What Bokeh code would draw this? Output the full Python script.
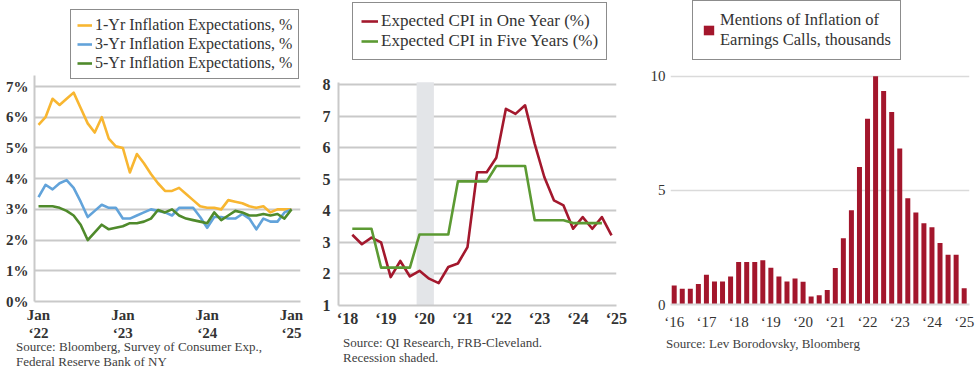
import numpy as np
import pandas as pd
from bokeh.plotting import figure
from bokeh.models import (Legend, LegendItem, BoxAnnotation, FixedTicker, Div,
                          Range1d, PrintfTickFormatter)
from bokeh.layouts import row, column
from bokeh.embed import file_html
from bokeh.resources import INLINE

FONT = "Liberation Serif"
TXT = "#333333"
GRID = "#c9c9c9"

# ---------------- Panel 1: NY Fed Survey of Consumer Expectations (monthly) ----------------
p1_months = pd.date_range("2022-01-01", "2025-01-01", freq="MS")
one_yr = [5.75, 6.0, 6.6, 6.4, 6.6, 6.8, 6.3, 5.8, 5.5, 6.0, 5.3, 5.05,
          5.0, 4.2, 4.8, 4.5, 4.15, 3.85, 3.6, 3.6, 3.7, 3.5, 3.3, 3.1,
          3.05, 3.05, 3.0, 3.3, 3.25, 3.2, 3.1, 3.05, 3.1, 2.9, 3.0, 3.0, 3.0]
three_yr = [3.4, 3.8, 3.65, 3.85, 3.95, 3.7, 3.25, 2.75, 2.95, 3.15, 3.05, 3.05,
            2.7, 2.7, 2.8, 2.9, 3.0, 2.95, 2.9, 2.8, 3.05, 3.05, 3.05, 2.75,
            2.4, 2.75, 2.75, 2.7, 2.7, 2.85, 2.7, 2.35, 2.7, 2.6, 2.6, 2.9, 3.0]
five_yr = [3.1, 3.1, 3.1, 3.05, 2.95, 2.8, 2.5, 2.0, 2.25, 2.5, 2.35, 2.4,
           2.45, 2.55, 2.55, 2.6, 2.7, 2.98, 2.9, 3.0, 2.8, 2.7, 2.65, 2.6,
           2.55, 2.9, 2.65, 2.8, 2.95, 2.9, 2.8, 2.8, 2.85, 2.8, 2.85, 2.7, 3.0]
p1_ticks = ["2022-01", "2023-01", "2024-01", "2025-01"]
p1_tick_labels = ["Jan\n‘22", "Jan\n‘23", "Jan\n‘24", "Jan\n‘25"]
p1_yticks = [0, 1, 2, 3, 4, 5, 6, 7]
p1_source = ["Source: Bloomberg, Survey of Consumer Exp.,", "Federal Reserve Bank of NY"]

# ---------------- Panel 2: Cleveland Fed expected CPI (quarterly) ----------------
p2_quarters_1y = pd.period_range("2018Q1", "2024Q4", freq="Q")
cpi_one_year = [3.24, 2.94, 3.15, 3.0, 1.9, 2.41, 1.92, 2.1, 1.85, 1.71, 2.22, 2.33,
                2.85, 5.22, 5.22, 5.68, 7.23, 7.07, 7.34, 6.12, 5.07, 4.33, 4.17, 3.43,
                3.8, 3.43, 3.8, 3.22]
p2_quarters_5y = pd.period_range("2018Q1", "2024Q3", freq="Q")
cpi_five_year = [3.43, 3.43, 3.43, 2.2, 2.2, 2.2, 2.2, 3.25, 3.25, 3.25, 3.25, 4.93,
                 4.93, 4.93, 4.93, 5.42, 5.42, 5.42, 5.42, 3.7, 3.7, 3.7, 3.7, 3.61,
                 3.61, 3.61, 3.61]
recession = (2019.8, 2020.25)
p2_years = [2018, 2019, 2020, 2021, 2022, 2023, 2024, 2025]
p2_yticks = [1, 2, 3, 4, 5, 6, 7, 8]
p2_source = ["Source: QI Research, FRB-Cleveland.", "Recession shaded."]

# ---------------- Panel 3: mentions of inflation on earnings calls (quarterly) ----------------
p3_quarters = pd.period_range("2016Q1", "2025Q1", freq="Q")
mentions = [0.83, 0.69, 0.69, 0.9, 1.3, 1.01, 1.01, 1.23, 1.86, 1.86, 1.86, 1.94,
            1.61, 1.23, 1.01, 1.14, 1.0, 0.35, 0.4, 0.63, 1.6, 2.9, 4.13, 6.03,
            8.14, 10.0, 9.35, 8.43, 6.83, 4.65, 4.03, 3.56, 3.39, 2.69, 2.18, 2.18, 0.71]
p3_years = [2016, 2017, 2018, 2019, 2020, 2021, 2022, 2023, 2024, 2025]
p3_yticks = [0, 5, 10]
p3_source = ["Source: Lev Borodovsky, Bloomberg"]

PAGE_H = 373


def yrs_label(y):
    return "‘" + str(y)[2:]


def make_fig(xr, yr, left, fw, right, fh, bottom):
    p = figure(frame_width=fw, frame_height=fh, output_backend="svg", toolbar_location=None,
               x_range=Range1d(*xr), y_range=Range1d(*yr),
               min_border_left=left, min_border_right=right, min_border_top=0,
               min_border_bottom=bottom)
    p.outline_line_color = None
    p.background_fill_color = "white"
    p.border_fill_color = "white"
    p.xgrid.grid_line_color = None
    p.ygrid.grid_line_color = GRID
    p.ygrid.grid_line_width = 2
    return p


def style_axes(p, bold, size):
    for ax in (p.xaxis[0], p.yaxis[0]):
        ax.major_tick_line_color = None
        ax.minor_tick_line_color = None
        ax.major_tick_out = 0
        ax.major_tick_in = 0
        ax.major_label_text_font = FONT
        ax.major_label_text_font_size = size
        ax.major_label_text_font_style = "bold" if bold else "normal"
        ax.major_label_text_color = TXT
        ax.axis_line_color = GRID
        ax.axis_line_width = 2


def legend(items, loc, padding, glyph_w, glyph_h, standoff, size="17px", spacing=0):
    return Legend(items=items, location=loc, margin=0, padding=padding,
                  glyph_width=glyph_w, glyph_height=glyph_h, label_standoff=standoff,
                  label_width=0, label_height=18, spacing=spacing,
                  label_text_font=FONT, label_text_font_size=size, label_text_color=TXT,
                  label_text_line_height=1.15,
                  border_line_color="#8c8c8c", border_line_width=1.5, border_line_alpha=1.0,
                  background_fill_color="white", background_fill_alpha=1.0)


def source_div(lines, width, height, left, top):
    html = ("<div style=\"position:relative; left:%dpx; top:%dpx; white-space:nowrap; "
            "font-family:'Liberation Serif'; font-size:13px; line-height:14.5px; color:#404040;\">%s</div>"
            % (left, top, "<br>".join(lines)))
    return Div(text=html, width=width, height=height, margin=0,
               styles={"overflow": "visible"})


# ---------------- panel 1 ----------------
m_idx = np.arange(len(p1_months))
p1 = make_fig((-0.57, 37.28), (0, 9.80), 34, 266, 18, 301, 41)
style_axes(p1, True, "15px")
r1 = p1.line(m_idx, one_yr, line_color="#f8b631", line_width=2.6, line_join="round")
r3 = p1.line(m_idx, three_yr, line_color="#62a3da", line_width=2.6, line_join="round")
r5 = p1.line(m_idx, five_yr, line_color="#4f8a2b", line_width=2.6, line_join="round")
tick_pos = [int(np.where(p1_months == pd.Timestamp(t))[0][0]) for t in p1_ticks]
p1.xaxis.ticker = FixedTicker(ticks=tick_pos)
p1.xaxis.major_label_overrides = dict(zip(tick_pos, p1_tick_labels))
p1.xaxis.major_label_standoff = 5
p1.xaxis.major_label_text_line_height = 1.15
p1.yaxis.ticker = FixedTicker(ticks=p1_yticks)
p1.yaxis.formatter = PrintfTickFormatter(format="%d%%")
p1.yaxis.major_label_standoff = 6
p1.yaxis.bounds = (0, 7.35)
p1.add_layout(legend([LegendItem(label="1-Yr Inflation Expectations, %", renderers=[r1]),
                      LegendItem(label="3-Yr Inflation Expectations, %", renderers=[r3]),
                      LegendItem(label="5-Yr Inflation Expectations, %", renderers=[r5])],
                     (36, 222), 6, 15, 14, 3, size="16px", spacing=1), "center")
fig_h1 = 301 + 41
d1 = source_div(p1_source, 318, PAGE_H - fig_h1, 16, -3)

# ---------------- panel 2 ----------------
t1 = p2_quarters_1y.year + (p2_quarters_1y.quarter - 0.5) / 4.0
t5 = p2_quarters_5y.year + (p2_quarters_5y.quarter - 0.5) / 4.0
p2 = make_fig((2017.766, 2025.005), (1, 10.66), 20, 278, 31, 305, 29)
style_axes(p2, True, "16px")
p2.add_layout(BoxAnnotation(left=recession[0], right=recession[1], bottom=1, top=8.07,
                            fill_color="#e3e5e8", fill_alpha=1.0, line_color=None,
                            level="underlay"))
ra = p2.line(t1, cpi_one_year, line_color="#a3182d", line_width=2.6, line_join="round")
rb = p2.line(t5, cpi_five_year, line_color="#5c9a33", line_width=2.6, line_join="round")
p2.xaxis.ticker = FixedTicker(ticks=p2_years)
p2.xaxis.major_label_overrides = {y: yrs_label(y) for y in p2_years}
p2.xaxis.major_label_standoff = 4
p2.yaxis.ticker = FixedTicker(ticks=p2_yticks)
p2.yaxis.major_label_standoff = 8
p2.yaxis.bounds = (1, 8.07)
p2.add_layout(legend([LegendItem(label="Expected CPI in One Year (%)", renderers=[ra]),
                      LegendItem(label="Expected CPI in Five Years (%)", renderers=[rb])],
                     (14, 245), 8, 17, 14, 3), "center")
fig_h2 = 305 + 29
d2 = source_div(p2_source, 329, PAGE_H - fig_h2, 25, 2)

# ---------------- panel 3 ----------------
tq = p3_quarters.year + (p3_quarters.quarter - 1) / 4.0
p3 = make_fig((2015.885, 2025.165), (0, 13.32), 21, 299, 8, 304, 34)
style_axes(p3, False, "15px")
p3.ygrid.grid_line_color = "#dadada"
p3.ygrid.grid_line_width = 1.5
p3.yaxis.axis_line_color = None
p3.xaxis.axis_line_color = "#dadada"
rbar = p3.vbar(x=tq, top=mentions, width=0.155, fill_color="#a3162c", line_color=None)
p3.xaxis.ticker = FixedTicker(ticks=p3_years)
p3.xaxis.major_label_overrides = {y: yrs_label(y) for y in p3_years}
p3.xaxis.major_label_standoff = 9
p3.yaxis.ticker = FixedTicker(ticks=p3_yticks)
p3.yaxis.major_label_standoff = 5
p3.add_layout(legend([LegendItem(label="Mentions of Inflation of\nEarnings Calls, thousands",
                                 renderers=[rbar])],
                     (22, 244), 9, 13, 12, 5, size="16.5px"), "center")
fig_h3 = 304 + 34
d3 = source_div(p3_source, 328, PAGE_H - fig_h3, 19, -2)

layout = row(column(p1, d1), column(p2, d2), column(p3, d3))
open("out.html", "w").write(file_html(layout, INLINE))
